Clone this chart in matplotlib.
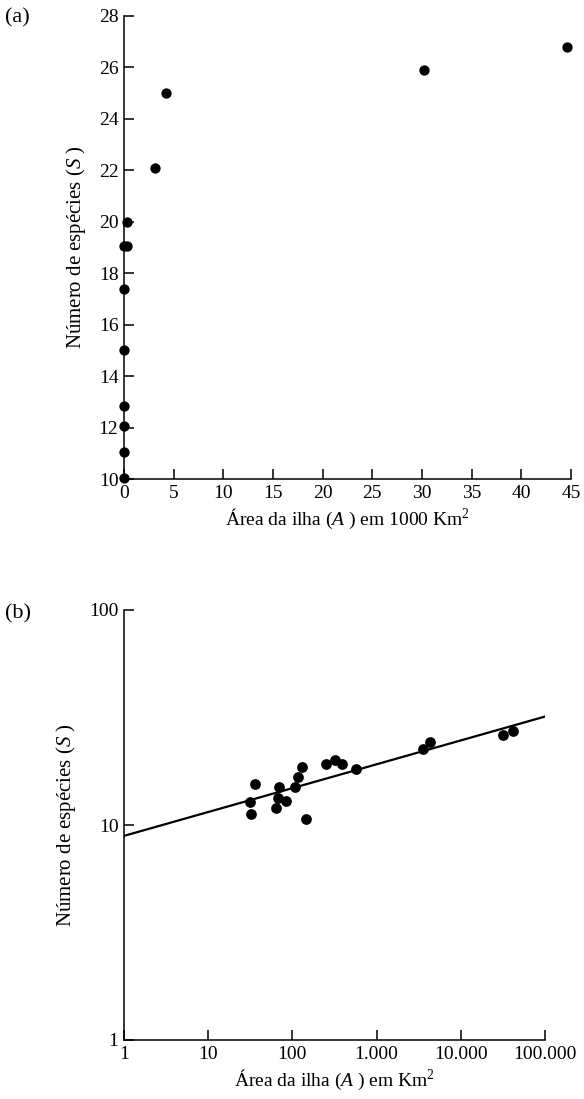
import numpy as np
import matplotlib
matplotlib.use("Agg")
import matplotlib.pyplot as plt

plt.rcParams["font.family"] = ["Liberation Serif", "DejaVu Serif"]
plt.rcParams["mathtext.fontset"] = "custom"
plt.rcParams["mathtext.rm"] = "Liberation Serif"
plt.rcParams["mathtext.it"] = "Liberation Serif:italic"
plt.rcParams["axes.linewidth"] = 1.1

# (a) island area in thousands of km², species count
area_thousand_km2 = [44.6, 30.2, 4.2, 3.1, 0.3, 0.0, 0.27, 0.0, 0.0, 0.0, 0.0, 0.0, 0.0]
species_a = [26.8, 25.9, 25.0, 22.1, 20.0, 19.05, 19.05, 17.4, 15.0, 12.85, 12.05, 11.05, 10.05]

# (b) island area in km², species count (log-log)
area_km2 = [31.4, 32.2, 36.0, 63.4, 69.8, 67.9, 83.2, 107, 118, 129, 145,
            251, 317, 393, 569, 3590, 4310, 32000, 41300]
species_b = [12.8, 11.3, 15.5, 12.0, 15.1, 13.3, 13.0, 15.1, 16.8, 18.7, 10.7,
             19.2, 20.1, 19.2, 18.2, 22.5, 24.4, 26.2, 27.5]

# power-law fit S = c * A^z
fit_c = 8.9
fit_z = 0.111

xticks_a = [0, 5, 10, 15, 20, 25, 30, 35, 40, 45]
yticks_a = [10, 12, 14, 16, 18, 20, 22, 24, 26, 28]
xticks_b = [1, 10, 100, 1000, 10000, 100000]
xticklabels_b = ["1", "10", "100", "1.000", "10.000", "100.000"]
yticks_b = [1, 10, 100]
yticklabels_b = ["1", "10", "100"]

W, H = 584, 1099
fig = plt.figure(figsize=(W / 100, H / 100), dpi=100)

FS_TICK = 14
FS_XLAB = 14
FS_YLAB = 15
FS_PANEL = 16


def style(ax):
    for side in ("top", "right"):
        ax.spines[side].set_visible(False)
    ax.tick_params(direction="in", length=7, width=1.1, labelsize=FS_TICK, pad=4,
                   colors="black")
    ax.tick_params(which="minor", length=0)


# ---- panel (a) ----
ax1 = fig.add_axes([124 / W, 1 - 479 / H, 447 / W, 463 / H])
ax1.scatter(area_thousand_km2, species_a, s=55, color="black", zorder=3,
            clip_on=False, linewidths=0)
ax1.set_xlim(0, 45)
ax1.set_ylim(10, 28)
ax1.set_xticks(xticks_a)
ax1.set_yticks(yticks_a)
style(ax1)
ax1.set_xlabel(r"Área da ilha ($\mathit{A}$ ) em 1000 Km$^2$", fontsize=FS_XLAB, labelpad=4)
ax1.set_ylabel(r"Número de espécies ($\mathit{S}$ )", fontsize=FS_YLAB, labelpad=8)
fig.text(5 / W, 1 - 18 / H, "(a)", fontsize=FS_PANEL, va="center", ha="left")

# ---- panel (b) ----
ax2 = fig.add_axes([124 / W, 1 - 1040 / H, 421 / W, 430 / H])
ax2.set_xscale("log")
ax2.set_yscale("log")
xfit = np.logspace(0, 5, 200)
ax2.plot(xfit, fit_c * xfit ** fit_z, color="black", lw=1.6, zorder=2)
ax2.scatter(area_km2, species_b, s=60, color="black", zorder=3, linewidths=0)
ax2.set_xlim(1, 100000)
ax2.set_ylim(1, 100)
ax2.set_xticks(xticks_b)
ax2.set_xticklabels(xticklabels_b)
ax2.set_yticks(yticks_b)
ax2.set_yticklabels(yticklabels_b)
ax2.minorticks_off()
style(ax2)
ax2.set_xlabel(r"Área da ilha ($\mathit{A}$ ) em Km$^2$", fontsize=FS_XLAB, labelpad=4)
ax2.set_ylabel(r"Número de espécies ($\mathit{S}$ )", fontsize=FS_YLAB, labelpad=8)
fig.text(5 / W, 1 - 614 / H, "(b)", fontsize=FS_PANEL, va="center", ha="left")

fig.savefig("out.png", dpi=100, facecolor="white")
